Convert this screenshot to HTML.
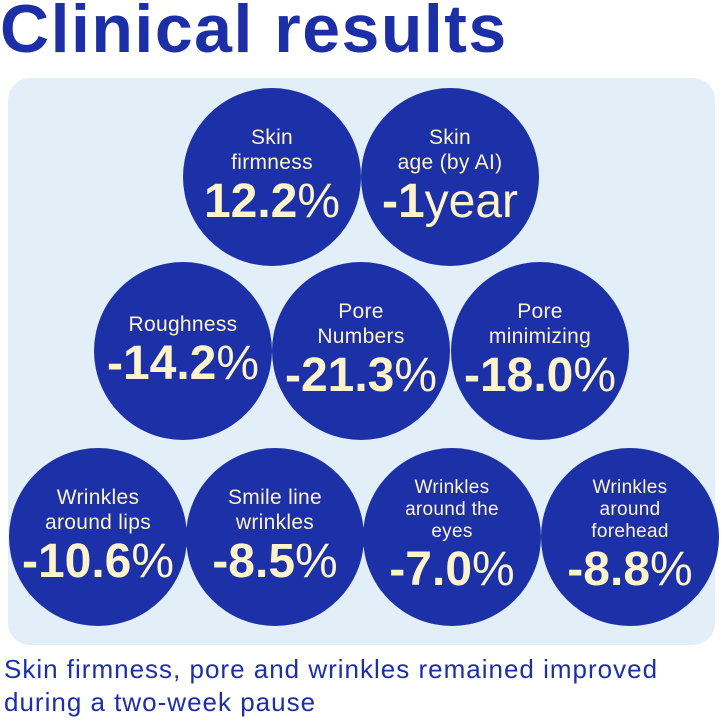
<!DOCTYPE html>
<html><head><meta charset="utf-8"><style>
body{margin:0;width:722px;height:722px;background:#fff;position:relative;overflow:hidden;font-family:"Liberation Sans",sans-serif;}
h1{position:absolute;left:0px;top:-10px;margin:0;font-size:68px;font-weight:bold;color:#1c2fa6;letter-spacing:1.5px}
.panel{position:absolute;left:8px;top:78px;width:707px;height:567px;background:#e3eff8;border-radius:22px}
.c{position:absolute;width:178px;height:178px;border-radius:50%;background:#1c31a8;color:#fdf3cc;text-align:center;display:flex;flex-direction:column;justify-content:center;align-items:center}
.l{font-size:21px;line-height:25px;letter-spacing:0.3px}
.v{font-size:48px;font-weight:bold;line-height:54px;letter-spacing:0px;white-space:nowrap}
.v span{font-weight:normal}
.f{position:absolute;left:4px;top:653px;font-size:26px;line-height:33px;color:#1c2fa6;letter-spacing:1px;white-space:nowrap}
</style></head><body>
<h1>Clinical results</h1>
<div class="panel"></div>
<div class="c" style="left:183px;top:88px"><div class="l">Skin<br>firmness</div><div class="v">12.2<span>%</span></div></div>
<div class="c" style="left:361px;top:88px"><div class="l">Skin<br>age (by AI)</div><div class="v">-1<span>year</span></div></div>
<div class="c" style="left:94px;top:262px"><div class="l">Roughness</div><div class="v">-14.2<span>%</span></div></div>
<div class="c" style="left:272px;top:262px"><div class="l">Pore<br>Numbers</div><div class="v">-21.3<span>%</span></div></div>
<div class="c" style="left:451px;top:262px"><div class="l">Pore<br>minimizing</div><div class="v">-18.0<span>%</span></div></div>
<div class="c" style="left:9px;top:448px"><div class="l">Wrinkles<br>around lips</div><div class="v">-10.6<span>%</span></div></div>
<div class="c" style="left:186px;top:448px"><div class="l">Smile line<br>wrinkles</div><div class="v">-8.5<span>%</span></div></div>
<div class="c" style="left:363px;top:448px"><div class="l" style="font-size:19px;line-height:22px">Wrinkles<br>around the<br>eyes</div><div class="v">-7.0<span>%</span></div></div>
<div class="c" style="left:541px;top:448px"><div class="l" style="font-size:19px;line-height:22px">Wrinkles<br>around<br>forehead</div><div class="v">-8.8<span>%</span></div></div>
<div class="f">Skin firmness, pore and wrinkles remained improved<br>during a two-week pause</div>
</body></html>
